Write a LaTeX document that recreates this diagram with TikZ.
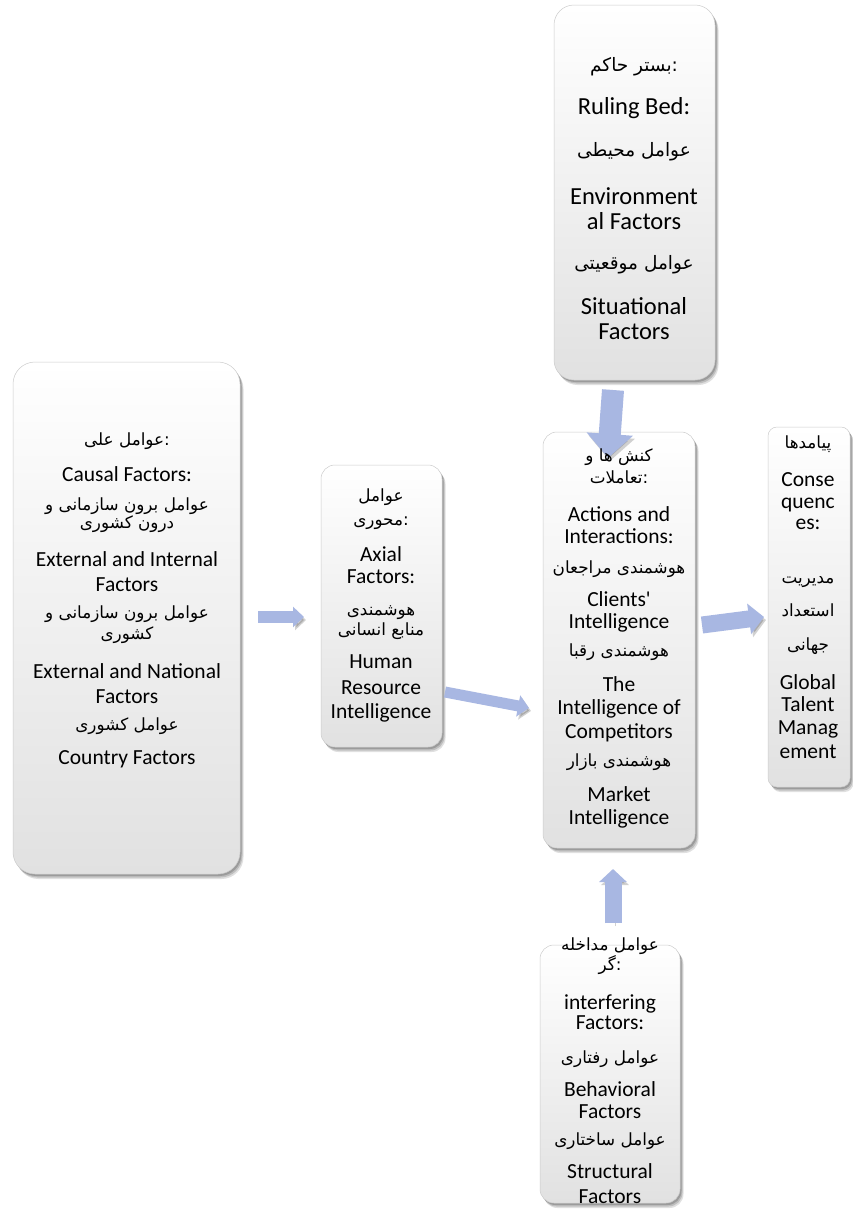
\documentclass[tikz,border=0pt]{standalone}
\usepackage{fontspec}
\setmainfont{Carlito}
\newfontfamily\plainen{Carlito}
\newfontfamily\persian[Script=Arabic]{DejaVu Sans}
\TeXXeTstate=1
\usetikzlibrary{shadows,arrows.meta}
\definecolor{arrowblue}{RGB}{168,183,226}
\definecolor{boxbottom}{RGB}{225,225,225}
\tikzset{
  panel/.style={rectangle, rounded corners=#1, draw=gray!40, line width=0.5pt,
    top color=white, bottom color=boxbottom, inner sep=0pt, outer sep=0pt,
    drop shadow={shadow xshift=3.5pt, shadow yshift=-5pt, opacity=0.12, fill=black},
    drop shadow={shadow xshift=2.5pt, shadow yshift=-3.5pt, opacity=0.15, fill=black},
    drop shadow={shadow xshift=1.5pt, shadow yshift=-2pt, opacity=0.18, fill=black}},
  blockarrow/.style n args={3}{draw=arrowblue, line width=#1,
    -{Triangle[width=#2,length=#3]},
    preaction={draw=black, opacity=0.18, transform canvas={shift={(2pt,-3pt)}}}},
  entxt/.style={inner sep=0pt, font=\fontsize{21.5}{25}\selectfont, text height=14pt, text depth=2pt},
  entop/.style={inner sep=0pt, font=\fontsize{24.5}{28}\selectfont, text height=16pt, text depth=2pt},
  fatxt/.style={inner sep=0pt, font=\persian\fontsize{16.8}{19}\selectfont, text height=11pt, text depth=4pt},
  fatop/.style={inner sep=0pt, font=\persian\fontsize{18.5}{21}\selectfont, text height=12pt, text depth=4pt},
}
\newcommand\EN[4]{\node[entxt] (#1) at (#2,-#3) {#4};}
\newcommand\ET[4]{\node[entop] (#1) at (#2,-#3) {#4};}
\newcommand\FA[4]{\node[fatxt] (#1) at (#2,-#3) {#4};}
\newcommand\FT[4]{\node[fatop] (#1) at (#2,-#3) {#4};}
\begin{document}
\begin{tikzpicture}[x=1pt,y=1pt]
\fill[white] (0,0) rectangle (853,-1213);
\useasboundingbox (0,0) rectangle (853,-1213);

% boxes
\node[panel=20pt, minimum width=161pt, minimum height=375pt] (ruling) at (634.5,-192.5) {};
\node[panel=22pt, minimum width=227pt, minimum height=512pt] (causal) at (126.5,-618) {};
\node[panel=14pt, minimum width=121pt, minimum height=282pt] (axial) at (381.5,-606) {};
\node[panel=14pt, minimum width=152pt, minimum height=416pt] (actions) at (619,-640) {};
\node[panel=9pt, minimum width=82pt, minimum height=360pt] (conseq) at (809,-607) {};
\node[panel=14pt, minimum width=140pt, minimum height=258pt] (interf) at (610,-1074) {};

% block arrows
\coordinate (c2a-s) at (258,-617); \coordinate (c2a-e) at (304,-617);
\coordinate (a2x-s) at (445,-692); \coordinate (a2x-e) at (529,-708);
\coordinate (r2x-s) at (613,-390); \coordinate (r2x-e) at (608,-458);
\coordinate (x2c-s) at (702,-625); \coordinate (x2c-e) at (764,-617);
\coordinate (i2x-s) at (613,-923); \coordinate (i2x-e) at (613,-869);
\draw[blockarrow={12pt}{20pt}{11pt}] (c2a-s) -- (c2a-e);
\draw[blockarrow={11pt}{21pt}{11pt}] (a2x-s) -- (a2x-e);
\draw[blockarrow={22pt}{45pt}{24pt}] (r2x-s) -- (r2x-e);
\draw[blockarrow={17pt}{30pt}{15pt}] (x2c-s) -- (x2c-e);
\draw[blockarrow={17pt}{27pt}{13pt}] (i2x-s) -- (i2x-e);

% ruling bed
\FT{r1}{634}{67}{\beginR بستر حاکم\endR:}
\ET{r2}{634}{107}{Ruling Bed:}
\FT{r3}{634}{152}{\beginR عوامل محیطی\endR}
\ET{r4}{634}{197}{Environment}
\ET{r5}{634}{222}{al Factors}
\FT{r6}{634}{265}{\beginR عوامل موقعیتی\endR}
\ET{r7}{634}{307}{Situational}
\ET{r8}{634}{332}{Factors}

% causal
\FA{c1}{127}{442}{\beginR عوامل علی\endR:}
\EN{c2}{127}{475}{Causal Factors:}
\FA{c3}{127}{507}{\beginR عوامل برون سازمانی و\endR}
\FA{c4}{127}{525}{\beginR درون کشوری\endR}
\EN{c5}{127}{560}{External and Internal}
\EN{c6}{127}{585}{Factors}
\FA{c7}{127}{615}{\beginR عوامل برون سازمانی و\endR}
\FA{c8}{127}{636}{\beginR کشوری\endR}
\EN{c9}{127}{672}{External and National}
\EN{c10}{127}{697}{Factors}
\FA{c11}{127}{727}{\beginR عوامل کشوری\endR}
\EN{c12}{127}{758}{Country Factors}

% axial
\FA{x1}{381}{498}{\beginR عوامل\endR}
\FA{x2}{381}{522}{\beginR محوری\endR:}
\EN{x3}{381}{555}{Axial}
\EN{x4}{381}{577}{Factors:}
\FA{x5}{381}{612}{\beginR هوشمندی\endR}
\FA{x6}{381}{632}{\beginR منابع انسانی\endR}
\EN{x7}{381}{662}{Human}
\EN{x8}{381}{688}{Resource}
\EN{x9}{381}{712}{Intelligence}

% actions
\FA{k1}{619}{458}{\beginR کنش ها و\endR}
\FA{k2}{619}{480}{\beginR تعاملات\endR:}
\EN{k3}{619}{515}{Actions and}
\EN{k4}{619}{537}{Interactions:}
\FA{k5}{619}{570}{\beginR هوشمندی مراجعان\endR}
\EN{k6}{619}{600}{\plainen Clients'}
\EN{k7}{619}{622}{Intelligence}
\FA{k8}{619}{653}{\beginR هوشمندی رقبا\endR}
\EN{k9}{619}{685}{The}
\EN{k10}{619}{708}{Intelligence of}
\EN{k11}{619}{732}{Competitors}
\FA{k12}{619}{763}{\beginR هوشمندی بازار\endR}
\EN{k13}{619}{795}{Market}
\EN{k14}{619}{818}{Intelligence}

% consequences
\FA{q1}{808}{445}{\beginR پیامدها\endR}
\EN{q2}{808}{480}{Conse}
\EN{q3}{808}{502}{quenc}
\EN{q4}{808}{523}{es:}
\FA{q5}{808}{580}{\beginR مدیریت\endR}
\FA{q6}{808}{613}{\beginR استعداد\endR}
\FA{q7}{808}{647}{\beginR جهانی\endR}
\EN{q8}{808}{683}{Global}
\EN{q9}{808}{705}{Talent}
\EN{q10}{808}{728}{Manag}
\EN{q11}{808}{752}{ement}

% interfering
\FA{i1}{610}{947}{\beginR عوامل مداخله\endR}
\FA{i2}{610}{967}{\beginR گر\endR:}
\EN{i3}{610}{1003}{interfering}
\EN{i4}{610}{1023}{Factors:}
\FA{i5}{610}{1060}{\beginR عوامل رفتاری\endR}
\EN{i6}{610}{1090}{Behavioral}
\EN{i7}{610}{1112}{Factors}
\FA{i8}{610}{1142}{\beginR عوامل ساختاری\endR}
\EN{i9}{610}{1172}{Structural}
\EN{i10}{610}{1197}{Factors}
\end{tikzpicture}
\end{document}
